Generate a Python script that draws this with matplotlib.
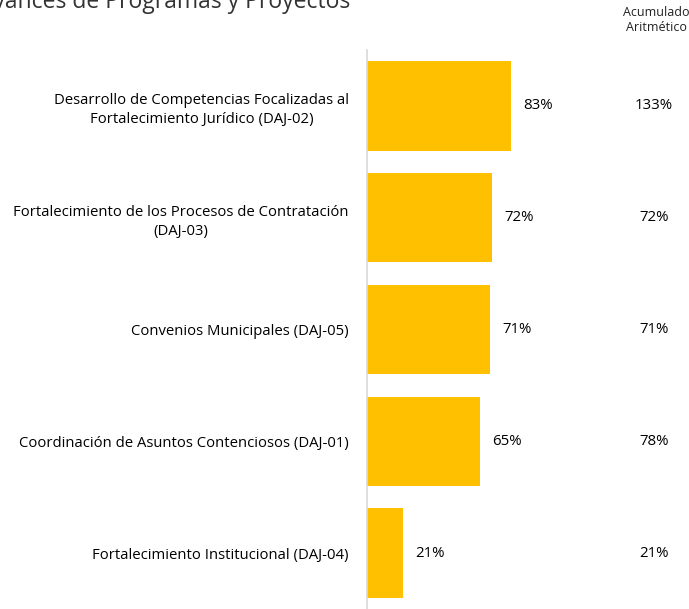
import matplotlib.pyplot as plt

programas = [
    "Desarrollo de Competencias Focalizadas al\nFortalecimiento Jurídico (DAJ-02)",
    "Fortalecimiento de los Procesos de Contratación\n(DAJ-03)",
    "Convenios Municipales (DAJ-05)",
    "Coordinación de Asuntos Contenciosos (DAJ-01)",
    "Fortalecimiento Institucional (DAJ-04)",
]
avance = [83, 72, 71, 65, 21]
acumulado = [133, 72, 71, 78, 21]

plt.rcParams['font.family'] = ['Open Sans', 'DejaVu Sans']

fig = plt.figure(figsize=(6.89, 6.09), dpi=100)
ax = fig.add_axes([367 / 689, 0.0, 322 / 689, 1 - 50 / 609])

pos = list(range(len(programas)))
ax.barh(pos, avance, height=0.8, color='#FFC000')
ax.set_ylim(len(programas) - 0.5, -0.5)
ax.set_xlim(0, 185.6)

for i, v in enumerate(avance):
    ax.text(v + 7, i, f"{v}%", va='center', ha='left', fontsize=10.8)
for i, v in enumerate(acumulado):
    ax.text(165.4, i, f"{v}%", va='center', ha='center', fontsize=10.8)

ax.set_yticks(pos)
ax.set_yticklabels(programas, fontsize=10.7, multialignment='center', linespacing=1.4)
ax.tick_params(axis='y', length=0, pad=13)
ax.set_xticks([])
for s in ['top', 'right', 'bottom']:
    ax.spines[s].set_visible(False)
ax.spines['left'].set_color('#D9D9D9')
ax.spines['left'].set_linewidth(1.2)

fig.text(656 / 689, 1 - 20 / 609, "Acumulado\nAritmético", ha='center', va='center',
         fontsize=9, linespacing=1.15, color='#222222')
fig.text(-0.03, 1 - 2 / 609, "Avances de Programas y Proyectos", ha='left', va='center',
         fontsize=16.5, color='#333333')

fig.savefig('out.png', dpi=100)
